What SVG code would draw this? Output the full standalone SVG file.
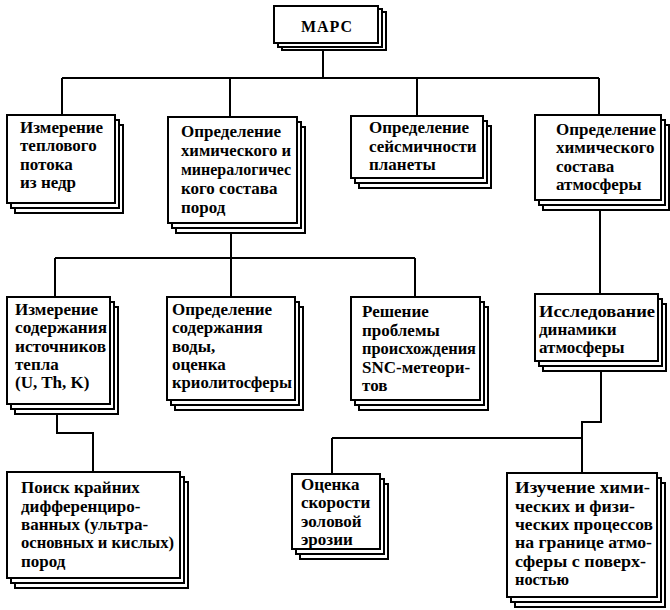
<svg xmlns="http://www.w3.org/2000/svg" width="670" height="610" viewBox="0 0 670 610">
<style>
.bx{fill:#fff;stroke:#000;stroke-width:2}
.t{font-family:"Liberation Serif","DejaVu Serif",serif;font-weight:bold;font-size:17px;fill:#000}
.tc{font-family:"Liberation Serif","DejaVu Serif",serif;font-weight:bold;font-size:16px;fill:#000;text-anchor:middle;letter-spacing:1px}
.c{fill:none;stroke:#000;stroke-width:2}
</style>
<rect width="670" height="610" fill="#fff"/>
<g id="connectors" class="c">
<path d="M323 50V78M62 78H599M62 78V115M230 78V117M417 78V116M599 78V115"/>
<path d="M231 232V258M55 258H415M55 258V297M231 258V297M415 258V297"/>
<path d="M600 210V294"/>
<path d="M57 414V433H93V472"/>
<path d="M601 371V422H582V438M332 438H582M332 438V474M582 438V473"/>
</g>
<g id="mars">
<rect class="bx" x="282" y="12" width="104" height="38"/>
<rect class="bx" x="278" y="9" width="104" height="38"/>
<rect class="bx" x="274" y="6" width="104" height="37"/>
<text class="tc" x="327" y="32">МАРС</text>
</g>
<g id="n1">
<rect class="bx" x="15" y="125" width="108" height="88"/>
<rect class="bx" x="11" y="120" width="108" height="88"/>
<rect class="bx" x="7" y="115" width="108" height="88"/>
<text class="t"><tspan x="20" y="133">Измерение</tspan><tspan x="20" y="151">теплового</tspan><tspan x="20" y="170">потока</tspan><tspan x="20" y="188">из недр</tspan></text>
</g>
<g id="n2">
<rect class="bx" x="176" y="127" width="129" height="106"/>
<rect class="bx" x="172" y="122" width="129" height="106"/>
<rect class="bx" x="168" y="117" width="129" height="106"/>
<text class="t"><tspan x="181" y="137">Определение</tspan><tspan x="181" y="156" textLength="110" lengthAdjust="spacingAndGlyphs">химического и</tspan><tspan x="181" y="175" textLength="110" lengthAdjust="spacingAndGlyphs">минералогичес</tspan><tspan x="181" y="194">кого состава</tspan><tspan x="181" y="213">пород</tspan></text>
</g>
<g id="n3">
<rect class="bx" x="359" y="126" width="132" height="62"/>
<rect class="bx" x="355" y="121" width="132" height="62"/>
<rect class="bx" x="351" y="116" width="132" height="62"/>
<text class="t"><tspan x="369" y="133">Определение</tspan><tspan x="369" y="152">сейсмичности</tspan><tspan x="369" y="170">планеты</tspan></text>
</g>
<g id="n4">
<rect class="bx" x="543" y="125" width="126" height="85"/>
<rect class="bx" x="539" y="120" width="126" height="85"/>
<rect class="bx" x="535" y="115" width="126" height="85"/>
<text class="t"><tspan x="556" y="135">Определение</tspan><tspan x="556" y="153">химического</tspan><tspan x="556" y="172">состава</tspan><tspan x="556" y="190">атмосферы</tspan></text>
</g>
<g id="n5">
<rect class="bx" x="15" y="307" width="103" height="107"/>
<rect class="bx" x="11" y="302" width="103" height="107"/>
<rect class="bx" x="7" y="297" width="103" height="107"/>
<text class="t"><tspan x="15" y="315">Измерение</tspan><tspan x="15" y="333" textLength="92" lengthAdjust="spacingAndGlyphs">содержания</tspan><tspan x="15" y="352" textLength="91" lengthAdjust="spacingAndGlyphs">источников</tspan><tspan x="15" y="370">тепла</tspan><tspan x="15" y="388">(U, Th, K)</tspan></text>
</g>
<g id="n6">
<rect class="bx" x="175" y="307" width="128" height="103"/>
<rect class="bx" x="171" y="302" width="128" height="103"/>
<rect class="bx" x="167" y="297" width="128" height="103"/>
<text class="t"><tspan x="172" y="315">Определение</tspan><tspan x="172" y="333">содержания</tspan><tspan x="172" y="352">воды,</tspan><tspan x="172" y="370">оценка</tspan><tspan x="172" y="388" textLength="120" lengthAdjust="spacingAndGlyphs">криолитосферы</tspan></text>
</g>
<g id="n7">
<rect class="bx" x="359" y="307" width="129" height="103"/>
<rect class="bx" x="355" y="302" width="129" height="103"/>
<rect class="bx" x="351" y="297" width="129" height="103"/>
<text class="t"><tspan x="362" y="317">Решение</tspan><tspan x="362" y="335.5">проблемы</tspan><tspan x="362" y="354" textLength="114" lengthAdjust="spacingAndGlyphs">происхождения</tspan><tspan x="362" y="372.5">SNC-метеори-</tspan><tspan x="362" y="391">тов</tspan></text>
</g>
<g id="n8">
<rect class="bx" x="543" y="304" width="123" height="67"/>
<rect class="bx" x="539" y="299" width="123" height="67"/>
<rect class="bx" x="535" y="294" width="123" height="67"/>
<text class="t"><tspan x="539" y="317" textLength="116" lengthAdjust="spacingAndGlyphs">Исследование</tspan><tspan x="539" y="335">динамики</tspan><tspan x="539" y="353">атмосферы</tspan></text>
</g>
<g id="n9">
<rect class="bx" x="15" y="482" width="173" height="106"/>
<rect class="bx" x="11" y="477" width="173" height="106"/>
<rect class="bx" x="7" y="472" width="173" height="106"/>
<text class="t"><tspan x="21" y="493">Поиск крайних</tspan><tspan x="21" y="512">дифференциро-</tspan><tspan x="21" y="530">ванных (ультра-</tspan><tspan x="21" y="548" textLength="153" lengthAdjust="spacingAndGlyphs">основных и кислых)</tspan><tspan x="21" y="567">пород</tspan></text>
</g>
<g id="n10">
<rect class="bx" x="300" y="484" width="88" height="75"/>
<rect class="bx" x="296" y="479" width="88" height="75"/>
<rect class="bx" x="292" y="474" width="88" height="75"/>
<text class="t"><tspan x="301" y="490">Оценка</tspan><tspan x="301" y="508">скорости</tspan><tspan x="301" y="527">эоловой</tspan><tspan x="301" y="545">эрозии</tspan></text>
</g>
<g id="n11">
<rect class="bx" x="515" y="483" width="150" height="124"/>
<rect class="bx" x="511" y="478" width="150" height="124"/>
<rect class="bx" x="507" y="473" width="150" height="124"/>
<text class="t"><tspan x="515" y="493" textLength="135" lengthAdjust="spacingAndGlyphs">Изучение хими-</tspan><tspan x="515" y="512" textLength="120" lengthAdjust="spacingAndGlyphs">ческих и физи-</tspan><tspan x="515" y="530" textLength="138" lengthAdjust="spacingAndGlyphs">ческих процессов</tspan><tspan x="515" y="548" textLength="137" lengthAdjust="spacingAndGlyphs">на границе атмо-</tspan><tspan x="515" y="567" textLength="131" lengthAdjust="spacingAndGlyphs">сферы с поверх-</tspan><tspan x="515" y="585" textLength="54" lengthAdjust="spacingAndGlyphs">ностью</tspan></text>
</g>
</svg>
